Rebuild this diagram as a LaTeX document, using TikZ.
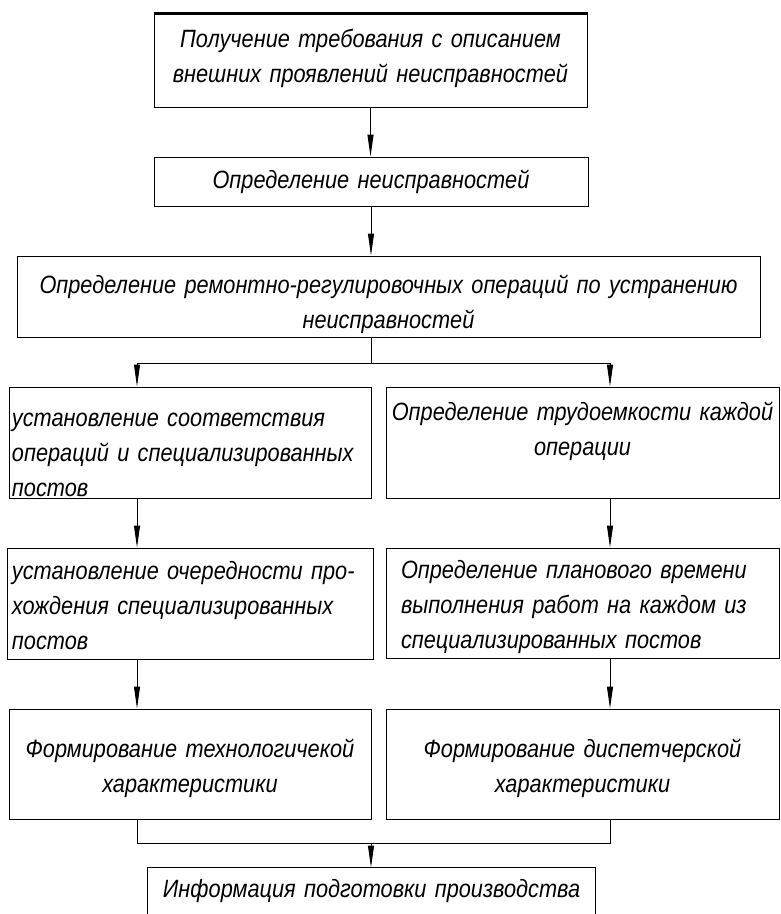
\documentclass[tikz,border=0pt]{standalone}
\usepackage{fontspec}
\setmainfont{Liberation Sans}[FakeStretch=0.87]
\usetikzlibrary{arrows.meta}
\tikzset{
  box/.style={draw=black, line width=1pt, inner ysep=0pt, inner xsep=3pt,
    font=\itshape\fontsize{25}{35}\selectfont},
  conn/.style={line width=1pt},
  arr/.style={line width=1pt, -{Triangle[length=22pt,width=6pt]}}
}
\begin{document}
\begin{tikzpicture}[x=1pt,y=-1pt]
\useasboundingbox (0,0) rectangle (781,914);
% boxes
\node[box, text width=427, minimum height=93, text height=32pt, text depth=59pt, align=center] (b1) at (370.5,60.5)
  {Получение требования с описанием\\внешних проявлений неисправностей};
\node[box, text width=428, minimum height=49, text height=30pt, text depth=17pt, align=center] (b2) at (371,181.5)
  {Определение неисправностей};
\node[box, text width=737, minimum height=81, text height=36pt, text depth=43pt, align=center] (b3) at (388.5,296.5)
  {Определение ремонтно-регулировочных операций по устранению\\неисправностей};
\node[box, text width=356, minimum height=111, text height=38pt, text depth=71pt, align=left] (b4l) at (190,442.5)
  {установление соответствия\\операций и специализированных\\постов};
\node[box, text width=391, minimum height=111, inner xsep=1pt, text height=32pt, text depth=77pt, align=center] (b4r) at (582.5,442.5)
  {Определение трудоемкости каждой\\операции};
\node[box, text width=356, minimum height=111, text height=30pt, text depth=79pt, align=left, inner xsep=5pt] (b5l) at (190,603.5)
  {установление очередности про-\\хождения специализированных\\постов};
\node[box, text width=363, minimum height=110, text height=29pt, text depth=79pt, align=left, inner xsep=15pt] (b5r) at (582.5,603)
  {Определение планового времени\\выполнения работ на каждом из\\специализированных постов};
\node[box, text width=356, minimum height=110, text height=47pt, text depth=61pt, align=center] (b6l) at (190,764)
  {Формирование технологичекой\\характеристики};
\node[box, text width=387, minimum height=110, text height=47pt, text depth=61pt, align=center] (b6r) at (582.5,764)
  {Формирование диспетчерской\\характеристики};
\node[box, draw=none, text width=441, minimum height=66, text height=28pt, text depth=36pt, align=center] (b7) at (371.5,901)
  {Информация подготовки производства};
\draw[line width=1pt] (b7.south west) -- (b7.north west) -- (b7.north east) -- (b7.south east);
\draw[line width=2.2pt] (b1.north west) -- (b1.north east);
% junction coordinates
\coordinate (jl) at (137,363);
\coordinate (jr) at (610,363);
\coordinate (jm) at (371,363);
\coordinate (kl) at (137,843);
\coordinate (kr) at (610,843);
\coordinate (km) at (371,843);
% connectors
\draw[arr] (b1.south) -- (b1.south |- b2.north);
\draw[arr] (b2.south) -- (b2.south |- b3.north);
\draw[conn] (jm |- b3.south) -- (jm);
\draw[conn] (jl) -- (jr);
\draw[arr] (jl) -- (jl |- b4l.north);
\draw[arr] (jr) -- (jr |- b4r.north);
\draw[arr] (jl |- b4l.south) -- (jl |- b5l.north);
\draw[arr] (jr |- b4r.south) -- (jr |- b5r.north);
\draw[arr] (jl |- b5l.south) -- (jl |- b6l.north);
\draw[arr] (jr |- b5r.south) -- (jr |- b6r.north);
\draw[conn] (jl |- b6l.south) -- (kl) -- (kr) -- (jr |- b6r.south);
\draw[arr] (km) -- (km |- b7.north);
\end{tikzpicture}
\end{document}
